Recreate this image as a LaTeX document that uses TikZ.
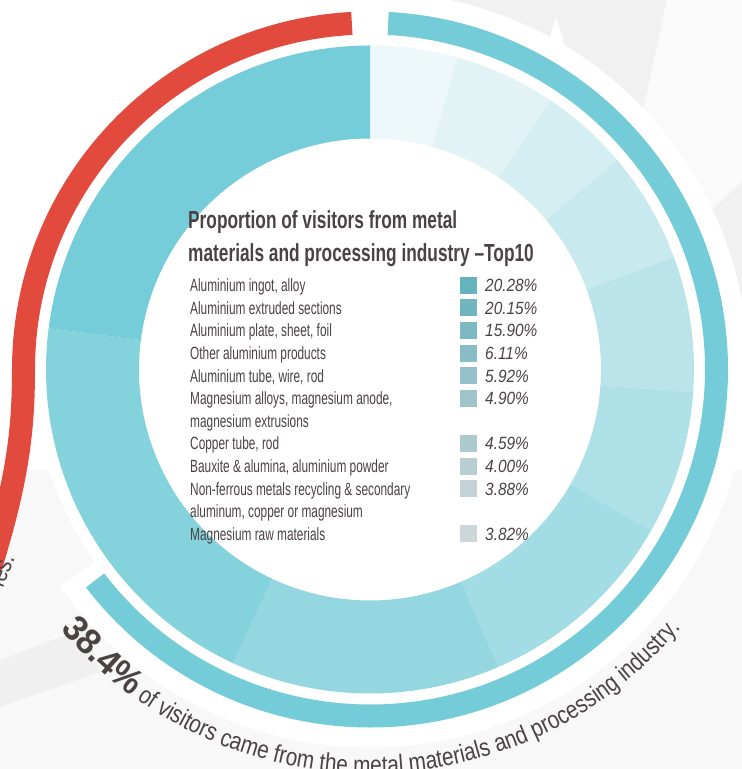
\documentclass[tikz,border=0pt]{standalone}
\usepackage{fontspec}
\setmainfont{Liberation Sans}
\newfontfamily\itemfont{Liberation Sans}[FakeStretch=0.67]
\newfontfamily\titlefont{Liberation Sans}[FakeStretch=0.70]
\newfontfamily\pctfont{Liberation Sans}[FakeStretch=0.87]
\newfontfamily\arcfont{Liberation Sans}[FakeStretch=0.83]
\newfontfamily\arcboldfont{Liberation Sans}[FakeStretch=0.96]
\usetikzlibrary{decorations.text}
\definecolor{textc}{HTML}{4B4244}
\definecolor{bandc}{HTML}{74CCD8}
\definecolor{redc}{HTML}{E24A3E}
\definecolor{bgA}{HTML}{F8F8F8}
\definecolor{bgB}{HTML}{F0F0F0}
\definecolor{bgC}{HTML}{FAFAFA}
\definecolor{sA}{HTML}{75CDD9}
\definecolor{sB}{HTML}{84D2DC}
\definecolor{sC}{HTML}{94D7E0}
\definecolor{sD}{HTML}{A2DCE4}
\definecolor{sE}{HTML}{AEE0E7}
\definecolor{sF}{HTML}{BBE4EA}
\definecolor{sG}{HTML}{C8E9EE}
\definecolor{sH}{HTML}{D5EEF2}
\definecolor{sI}{HTML}{E1F3F5}
\definecolor{sJ}{HTML}{EEF8FA}
\definecolor{q0}{HTML}{66B3BD}
\definecolor{q1}{HTML}{71B6BF}
\definecolor{q2}{HTML}{7CB9C2}
\definecolor{q3}{HTML}{89BDC6}
\definecolor{q4}{HTML}{95C1C8}
\definecolor{q5}{HTML}{9FC5CB}
\definecolor{q6}{HTML}{ACC9CE}
\definecolor{q7}{HTML}{B7CED3}
\definecolor{q8}{HTML}{C2D2D7}
\definecolor{q9}{HTML}{CDD6D9}
\newcommand\ringseg[3]{\fill[#3] (#1:324) arc[start angle=#1, end angle=#2, radius=324] -- (#2:231) arc[start angle=#2, end angle=#1, radius=231] -- cycle;}
\newcommand\arcbig{\arcboldfont\bfseries\fontsize{36}{36}\selectfont}
\newcommand\arcsmall{\arcfont\mdseries\fontsize{25}{26}\selectfont}
\begin{document}
\begin{tikzpicture}[x=1pt,y=1pt,
  item/.style={anchor=base west, inner sep=0pt, text=textc, font=\itemfont\fontsize{17.7}{20}\selectfont},
  pct/.style={anchor=base west, inner sep=0pt, text=textc, font=\pctfont\itshape\fontsize{17.7}{20}\selectfont},
  sq/.style={anchor=south west, inner sep=0pt, minimum size=17pt, draw=none},
  ttl/.style={anchor=base west, inner sep=0pt, text=textc, font=\titlefont\bfseries\fontsize{24.7}{28}\selectfont}]
\useasboundingbox (0,0) rectangle (742,769);
\clip (0,0) rectangle (742,769);
% background
\fill[white] (0,0) rectangle (742,769);
\fill[bgA] (0,0) rectangle (742,299);
\fill[bgB] (0,109) -- (85,141) -- (100,97) -- (0,62) -- cycle;
\fill[bgB!90!white] (450,769) -- (742,769) -- (742,439) -- (450,439) -- cycle;
\fill[bgC] (667,769) -- (742,769) -- (742,587) -- (706,555) -- (630,599) -- cycle;
\begin{scope}[shift={(370,399.5)}]
  \fill[white] (-145:378) arc[start angle=-145, end angle=95, radius=378] -- (0,0) -- cycle;
  \fill[white] (0,0) circle[radius=336];
\end{scope}
\fill[white] (556,751) -- (546,720) -- (566,720) -- cycle;
\begin{scope}[shift={(370,399.5)}]
  % inner ring segments
  \ringseg{74.4}{90}{sJ}
  \ringseg{56.1}{74.4}{sI}
  \ringseg{40.3}{56.1}{sH}
  \ringseg{20.3}{40.3}{sG}
  \ringseg{-4}{20.3}{sF}
  \ringseg{-29.8}{-4}{sE}
  \ringseg{-66.7}{-29.8}{sD}
  \ringseg{-115}{-66.7}{sC}
  \ringseg{172.7}{245}{sB}
  \ringseg{90}{172.7}{sA}
  % outer blue band
  \fill[bandc] (87:358) arc[start angle=87, end angle=-142.5, radius=358] -- (-142.5:335) arc[start angle=-142.5, end angle=87, radius=335] -- cycle;
  % red band
  \draw[redc, line width=23pt] (93:346.5) arc[start angle=93, end angle=180, radius=346.5]
     .. controls (-346.5,-59.5) and (-352,-109.5) .. (-380,-199.5);
  % curved text
  \path[decorate, decoration={text along path, text color=textc,
     text={|\arcbig|38.4{\%}|\arcsmall| of visitors came from the metal materials and processing industry.}}]
     (220:404) arc[start angle=220, end angle=335, radius=404];
\end{scope}
\node[anchor=base east, inner sep=0pt, rotate=68, text=textc, font=\arcsmall] (ies) at (15,211) {ies.};
% title
\node[ttl] (t1) at (188,540) {Proportion of visitors from metal};
\node[ttl] (t2) at (188,507) {materials and processing industry –Top10};
% legend
\node[item] (i0) at (190,477.3) {Aluminium ingot, alloy};
\node[item] (i1) at (190,454.7) {Aluminium extruded sections};
\node[item] (i2) at (190,432.1) {Aluminium plate, sheet, foil};
\node[item] (i3) at (190,409.5) {Other aluminium products};
\node[item] (i4) at (190,386.9) {Aluminium tube, wire, rod};
\node[item] (i5) at (190,364.3) {Magnesium alloys, magnesium anode,};
\node[item] (i6) at (190,341.7) {magnesium extrusions};
\node[item] (i7) at (190,319.1) {Copper tube, rod};
\node[item] (i8) at (190,296.5) {Bauxite \& alumina, aluminium powder};
\node[item] (i9) at (190,273.9) {Non-ferrous metals recycling \& secondary};
\node[item] (i10) at (190,251.3) {aluminum, copper or magnesium};
\node[item] (i11) at (190,228.7) {Magnesium raw materials};
\node[sq, fill=q0] (b0) at (460,475.0) {};
\node[sq, fill=q1] (b1) at (460,452.4) {};
\node[sq, fill=q2] (b2) at (460,429.8) {};
\node[sq, fill=q3] (b3) at (460,407.2) {};
\node[sq, fill=q4] (b4) at (460,384.6) {};
\node[sq, fill=q5] (b5) at (460,362.0) {};
\node[sq, fill=q6] (b6) at (460,316.8) {};
\node[sq, fill=q7] (b7) at (460,294.2) {};
\node[sq, fill=q8] (b8) at (460,271.6) {};
\node[sq, fill=q9] (b9) at (460,226.4) {};
\node[pct] (p0) at (485,477.3) {20.28\%};
\node[pct] (p1) at (485,454.7) {20.15\%};
\node[pct] (p2) at (485,432.1) {15.90\%};
\node[pct] (p3) at (485,409.5) {6.11\%};
\node[pct] (p4) at (485,386.9) {5.92\%};
\node[pct] (p5) at (485,364.3) {4.90\%};
\node[pct] (p6) at (485,319.1) {4.59\%};
\node[pct] (p7) at (485,296.5) {4.00\%};
\node[pct] (p8) at (485,273.9) {3.88\%};
\node[pct] (p9) at (485,228.7) {3.82\%};
\end{tikzpicture}
\end{document}
